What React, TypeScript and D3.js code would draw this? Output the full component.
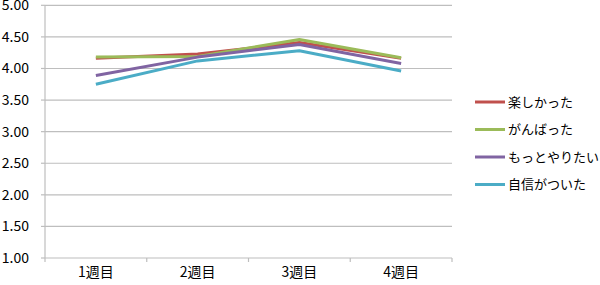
import React from "react";
import * as d3 from "d3";

const categories = ["1週目", "2週目", "3週目", "4週目"];
const seriesNames = ["楽しかった", "がんばった", "もっとやりたい", "自信がついた"];
const seriesColors = ["#C0504D", "#9BBB59", "#8064A2", "#4BACC6"];
const tanoshikatta = [4.16, 4.23, 4.41, 4.16];
const ganbatta = [4.18, 4.19, 4.46, 4.17];
const motto = [3.89, 4.18, 4.38, 4.08];
const jishin = [3.75, 4.12, 4.28, 3.96];
const yTicks = [1.0, 1.5, 2.0, 2.5, 3.0, 3.5, 4.0, 4.5, 5.0];

const seriesValues = [tanoshikatta, ganbatta, motto, jishin];

export default function App() {
  const W = 600, H = 285;
  const left = 45, right = 452, top = 5.3, bottom = 258;
  const x = d3.scaleBand<string>().domain(categories).range([left, right]).padding(0);
  const y = d3.scaleLinear().domain([1, 5]).range([bottom, top]);
  const line = d3
    .line<number>()
    .x((_, i) => (x(categories[i]) as number) + x.bandwidth() / 2)
    .y((d) => y(d));
  const font = "'Noto Sans CJK JP', 'Noto Sans', sans-serif";
  const xBounds = [...categories.map((c) => x(c) as number), right];
  return (
    <svg width={W} height={H} style={{ position: "absolute", left: 0, top: 0 }}>
      <rect width={W} height={H} fill="#fff" />
      {yTicks.map((t) => (
        <g key={t}>
          {t > 1 && (
            <line x1={left} x2={right} y1={y(t)} y2={y(t)} stroke="#BEBEBE" strokeWidth={1.2} />
          )}
          <line x1={left - 4} x2={left} y1={y(t)} y2={y(t)} stroke="#BEBEBE" strokeWidth={1.2} />
          <text
            x={29}
            y={y(t)}
            dy="0.35em"
            textAnchor="end"
            fontFamily={font}
            fontSize={14}
            fill="#000"
          >
            {t.toFixed(2)}
          </text>
        </g>
      ))}
      <line x1={left} x2={left} y1={top} y2={bottom} stroke="#BEBEBE" strokeWidth={1.2} />
      <line x1={left} x2={right} y1={bottom} y2={bottom} stroke="#BEBEBE" strokeWidth={1.2} />
      {xBounds.map((b, i) => (
        <line key={i} x1={b} x2={b} y1={bottom} y2={bottom + 4} stroke="#BEBEBE" strokeWidth={1.2} />
      ))}
      {categories.map((c) => (
        <text
          key={c}
          x={(x(c) as number) + x.bandwidth() / 2}
          y={277}
          textAnchor="middle"
          fontFamily={font}
          fontSize={14}
          fill="#000"
        >
          {c}
        </text>
      ))}
      {seriesValues.map((vals, i) => (
        <path
          key={i}
          d={line(vals) || ""}
          fill="none"
          stroke={seriesColors[i]}
          strokeWidth={3}
          strokeLinejoin="round"
        />
      ))}
      {seriesNames.map((n, i) => {
        const ly = 102 + i * 27.5;
        return (
          <g key={n}>
            <line x1={475} x2={505} y1={ly} y2={ly} stroke={seriesColors[i]} strokeWidth={3} />
            <text x={508} y={ly} dy="0.35em" fontFamily={font} fontSize={13} fill="#000">
              {n}
            </text>
          </g>
        );
      })}
    </svg>
  );
}
